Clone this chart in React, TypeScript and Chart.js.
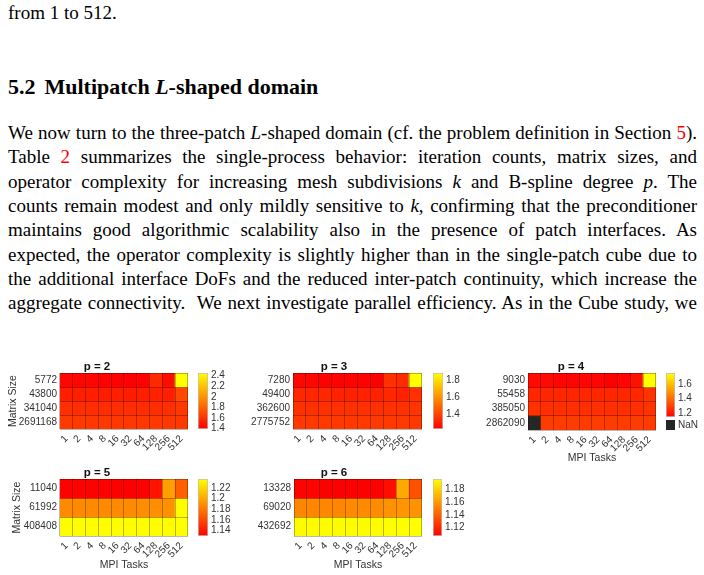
import React, { useEffect, useLayoutEffect, useRef } from "react";
import { Chart, registerables } from "chart.js";
Chart.register(...registerables);

const SANS = "'Liberation Sans', Arial, sans-serif";
const SERIF = "'Liberation Serif', 'Times New Roman', serif";
Chart.defaults.font.family = SANS;

// ---------------- data ----------------
const mpiTasks = ["1", "2", "4", "8", "16", "32", "64", "128", "256", "512"];

const p2Sizes = ["5772", "43800", "341040", "2691168"];
const p2Values = [
  [1.42, 1.41, 1.41, 1.40, 1.40, 1.39, 1.40, 1.56, 1.44, 2.45],
  [1.52, 1.52, 1.52, 1.51, 1.52, 1.51, 1.52, 1.53, 1.52, 1.69],
  [1.59, 1.58, 1.58, 1.58, 1.58, 1.58, 1.58, 1.58, 1.59, 1.62],
  [1.63, 1.63, 1.62, 1.62, 1.62, 1.62, 1.62, 1.62, 1.62, 1.63],
];
const p2Ticks = [1.4, 1.6, 1.8, 2, 2.2, 2.4];

const p3Sizes = ["7280", "49400", "362600", "2775752"];
const p3Values = [
  [1.25, 1.25, 1.24, 1.24, 1.24, 1.24, 1.235, 1.36, 1.34, 1.88],
  [1.33, 1.33, 1.33, 1.32, 1.32, 1.32, 1.32, 1.33, 1.32, 1.36],
  [1.36, 1.36, 1.36, 1.36, 1.36, 1.36, 1.36, 1.36, 1.36, 1.37],
  [1.38, 1.38, 1.38, 1.38, 1.38, 1.38, 1.38, 1.38, 1.38, 1.38],
];
const p3Ticks = [1.4, 1.6, 1.8];

const p4Sizes = ["9030", "55458", "385050", "2862090"];
const p4Values = [
  [1.17, 1.17, 1.16, 1.16, 1.16, 1.16, 1.15, 1.16, 1.19, 1.75],
  [1.24, 1.24, 1.24, 1.24, 1.24, 1.24, 1.24, 1.24, 1.24, 1.27],
  [1.27, 1.26, 1.26, 1.26, 1.26, 1.26, 1.26, 1.26, 1.26, 1.27],
  [null, 1.29, 1.29, 1.29, 1.29, 1.29, 1.29, 1.29, 1.29, 1.29],
];
const p4Ticks = [1.2, 1.4, 1.6];

const p5Sizes = ["11040", "61992", "408408"];
const p5Values = [
  [1.131, 1.131, 1.131, 1.13, 1.13, 1.13, 1.13, 1.138, 1.197, 1.17],
  [1.188, 1.188, 1.188, 1.188, 1.188, 1.188, 1.189, 1.19, 1.191, 1.236],
  [1.236, 1.236, 1.236, 1.236, 1.236, 1.236, 1.236, 1.236, 1.236, 1.237],
];
const p5Ticks = [1.14, 1.16, 1.18, 1.2, 1.22];

const p6Sizes = ["13328", "69020", "432692"];
const p6Values = [
  [1.108, 1.108, 1.107, 1.107, 1.107, 1.107, 1.107, 1.112, 1.166, 1.135],
  [1.154, 1.154, 1.154, 1.154, 1.155, 1.155, 1.156, 1.158, 1.159, 1.158],
  [1.195, 1.195, 1.195, 1.195, 1.195, 1.195, 1.195, 1.196, 1.196, 1.196],
];
const p6Ticks = [1.12, 1.14, 1.16, 1.18];

// ---------------- helpers ----------------
function range(values: (number | null)[][]) {
  const flat = values.flat().filter((v) => v != null) as number[];
  return { vmin: Math.min(...flat), vmax: Math.max(...flat) };
}
function autumn(v: number | null, vmin: number, vmax: number) {
  if (v == null) return "#262626";
  const t = Math.max(0, Math.min(1, (v - vmin) / (vmax - vmin)));
  return `rgb(255, ${Math.round(255 * t)}, 0)`;
}

const GRID = "rgba(0,0,0,0.28)";
const TXT = "#333";

type HeatProps = {
  title: string;
  rows: string[];
  values: (number | null)[][];
  left: number; top: number; width: number; height: number;
  yW: number; xH: number;
  yTitle?: boolean; yTitlePad?: number;
  xTitle?: boolean;
};

function Heatmap(p: HeatProps) {
  const ref = useRef<HTMLCanvasElement>(null);
  useEffect(() => {
    const n = p.rows.length;
    const { vmin, vmax } = range(p.values);
    const datasets = p.rows.map((label, r) => ({
      label,
      data: p.values[r].map(() => [n - 1 - r, n - r]),
      backgroundColor: p.values[r].map((v) => autumn(v, vmin, vmax)),
      borderWidth: 0,
      grouped: false,
      barPercentage: 1,
      categoryPercentage: 1,
    }));
    const chart = new Chart(ref.current!, {
      type: "bar",
      data: { labels: mpiTasks, datasets: datasets as any },
      options: {
        responsive: false,
        animation: false,
        events: [],
        layout: { padding: 0, autoPadding: false },
        plugins: {
          legend: { display: false },
          tooltip: { enabled: false },
          title: {
            display: true,
            text: p.title,
            color: "#111",
            font: { size: 11.5, weight: "bold", family: SANS, lineHeight: "13px" } as any,
            padding: { top: 0, bottom: 0 },
          },
        },
        scales: {
          x: {
            type: "category",
            offset: true,
            grid: { offset: true, color: GRID, drawTicks: false, lineWidth: 1, z: 1 },
            border: { display: false },
            ticks: {
              minRotation: 45, maxRotation: 45, autoSkip: false, padding: 4,
              color: TXT, font: { size: 10, family: SANS },
            },
            title: {
              display: !!p.xTitle, text: "MPI Tasks", color: TXT,
              font: { size: 10.5, family: SANS, lineHeight: "12px" } as any,
              padding: { top: 0, bottom: 4 },
            },
            afterFit: (s: any) => { s.height = p.xH; },
          },
          y: {
            type: "linear",
            min: 0, max: n,
            position: "left",
            grid: { display: false, drawTicks: false },
            border: { display: false },
            afterBuildTicks: (s: any) => { s.ticks = p.rows.map((_, r) => ({ value: n - r - 0.5 })); },
            ticks: {
              autoSkip: false, padding: 3, color: TXT, font: { size: 10, family: SANS },
              callback: (_v: any, i: number) => p.rows[i],
            },
            title: {
              display: !!p.yTitle, text: "Matrix Size", color: TXT,
              font: { size: 10.5, family: SANS, lineHeight: "12px" } as any,
              padding: { top: p.yTitlePad ?? 7, bottom: 0 },
            },
            afterFit: (s: any) => { s.width = p.yW; },
          },
          y2: {
            type: "linear",
            min: 0, max: n,
            position: "left",
            grid: { color: GRID, drawTicks: false, lineWidth: 1, z: 1 },
            border: { display: false },
            ticks: { display: false, stepSize: 1 },
            afterFit: (s: any) => { s.width = 0; },
          },
        },
      } as any,
    });
    return () => chart.destroy();
  }, []);
  return (
    <canvas
      ref={ref}
      width={p.width}
      height={p.height}
      style={{ position: "absolute", left: p.left, top: p.top, width: p.width, height: p.height }}
    />
  );
}

type BarProps = {
  values: (number | null)[][];
  ticks: number[];
  left: number; top: number; barW: number; barH: number;
};

function ColorBar(p: BarProps) {
  const ref = useRef<HTMLCanvasElement>(null);
  const PAD = 10, AXW = 30;
  useEffect(() => {
    const { vmin, vmax } = range(p.values);
    const chart = new Chart(ref.current!, {
      type: "bar",
      data: {
        labels: [""],
        datasets: [{
          data: [[vmin, vmax]],
          backgroundColor: (ctx: any) => {
            const c = ctx.chart;
            const ys = c.scales && c.scales.y;
            if (!c.chartArea || !ys) return "rgb(255,128,0)";
            const g = c.ctx.createLinearGradient(0, ys.getPixelForValue(vmin), 0, ys.getPixelForValue(vmax));
            g.addColorStop(0, "rgb(255,0,0)");
            g.addColorStop(1, "rgb(255,255,0)");
            return g;
          },
          borderColor: "rgba(0,0,0,0.25)",
          borderWidth: 1,
          borderSkipped: false,
          barPercentage: 1,
          categoryPercentage: 1,
        }] as any,
      },
      options: {
        responsive: false,
        animation: false,
        events: [],
        layout: { padding: { top: PAD, bottom: PAD, left: 0, right: 0 }, autoPadding: false },
        plugins: { legend: { display: false }, tooltip: { enabled: false }, title: { display: false } },
        scales: {
          x: { display: false },
          y: {
            type: "linear",
            position: "right",
            min: vmin, max: vmax,
            grid: { display: false, drawTicks: false },
            border: { display: false },
            afterBuildTicks: (s: any) => { s.ticks = p.ticks.map((v) => ({ value: v })); },
            ticks: {
              autoSkip: false, padding: 3, color: TXT, font: { size: 10, family: SANS },
              callback: (v: any) => String(v),
            },
            afterFit: (s: any) => { s.width = AXW; },
          },
        },
      } as any,
    });
    return () => chart.destroy();
  }, []);
  const w = p.barW + AXW, h = p.barH + 2 * PAD;
  return (
    <canvas
      ref={ref}
      width={w}
      height={h}
      style={{ position: "absolute", left: p.left, top: p.top - PAD, width: w, height: h }}
    />
  );
}

// ---------------- text ----------------
const TEXT_W = 689;
function Line({ top, children, justify = true }: { top: number; children: any; justify?: boolean }) {
  const ref = useRef<HTMLDivElement>(null);
  useLayoutEffect(() => {
    const el = ref.current;
    if (!el || !justify) return;
    el.style.wordSpacing = "0px";
    const w = el.getBoundingClientRect().width;
    const spaces = ((el.textContent || "").match(/ /g) || []).length;
    if (spaces) el.style.wordSpacing = `${(TEXT_W - w) / spaces}px`;
  }, []);
  return (
    <div
      ref={ref}
      style={{
        position: "absolute", left: 8, top, whiteSpace: "pre",
        fontFamily: SERIF, fontSize: 19, lineHeight: "24px", color: "#000",
      }}
    >
      {children}
    </div>
  );
}
const red = (s: string) => <span style={{ color: "#f00" }}>{s}</span>;

export default function App() {
  const lineTops = [121, 145, 170, 194, 218, 243, 267, 291];
  return (
    <div style={{ position: "absolute", left: 0, top: 0, width: 704, height: 575, overflow: "hidden", background: "#fff" }}>
      <Line top={1} justify={false}>from 1 to 512.</Line>
      <div
        style={{
          position: "absolute", left: 8, top: 75, whiteSpace: "pre",
          fontFamily: SERIF, fontSize: 22, lineHeight: "24px", fontWeight: "bold",
        }}
      >
        5.2<span style={{ marginLeft: 9 }}>Multipatch </span><i>L</i>-shaped domain
      </div>
      <Line top={lineTops[0]}>We now turn to the three-patch <i>L</i>-shaped domain (cf. the problem definition in Section {red("5")}).</Line>
      <Line top={lineTops[1]}>Table {red("2")} summarizes the single-process behavior: iteration counts, matrix sizes, and</Line>
      <Line top={lineTops[2]}>operator complexity for increasing mesh subdivisions <i>k</i> and B-spline degree <i>p</i>. The</Line>
      <Line top={lineTops[3]}>counts remain modest and only mildly sensitive to <i>k</i>, confirming that the preconditioner</Line>
      <Line top={lineTops[4]}>maintains good algorithmic scalability also in the presence of patch interfaces. As</Line>
      <Line top={lineTops[5]}>expected, the operator complexity is slightly higher than in the single-patch cube due to</Line>
      <Line top={lineTops[6]}>the additional interface DoFs and the reduced inter-patch continuity, which increase the</Line>
      <Line top={lineTops[7]}>aggregate connectivity.  We next investigate parallel efficiency. As in the Cube study, we</Line>

      <Heatmap title="p = 2" rows={p2Sizes} values={p2Values} left={0} top={360} width={194} height={93} yW={60} xH={24} yTitle yTitlePad={7} />
      <ColorBar values={p2Values} ticks={p2Ticks} left={198} top={373} barW={10} barH={56} />

      <Heatmap title="p = 3" rows={p3Sizes} values={p3Values} left={240} top={360} width={188} height={93} yW={53} xH={24} />
      <ColorBar values={p3Values} ticks={p3Ticks} left={433} top={373} barW={10} barH={56} />

      <Heatmap title="p = 4" rows={p4Sizes} values={p4Values} left={480} top={360} width={182} height={108} yW={48} xH={38} xTitle />
      <ColorBar values={p4Values} ticks={p4Ticks} left={666} top={373} barW={9} barH={44} />
      <div style={{ position: "absolute", left: 666, top: 420, width: 9, height: 10, background: "#262626" }} />
      <div style={{ position: "absolute", left: 678, top: 419, fontFamily: SANS, fontSize: 10, lineHeight: "12px", color: TXT }}>NaN</div>

      <Heatmap title="p = 5" rows={p5Sizes} values={p5Values} left={0} top={466} width={194} height={109} yW={60} xH={39} yTitle yTitlePad={11} xTitle />
      <ColorBar values={p5Values} ticks={p5Ticks} left={198} top={479} barW={10} barH={57} />

      <Heatmap title="p = 6" rows={p6Sizes} values={p6Values} left={240} top={466} width={188} height={109} yW={54} xH={39} xTitle />
      <ColorBar values={p6Values} ticks={p6Ticks} left={433} top={479} barW={9} barH={57} />
    </div>
  );
}
